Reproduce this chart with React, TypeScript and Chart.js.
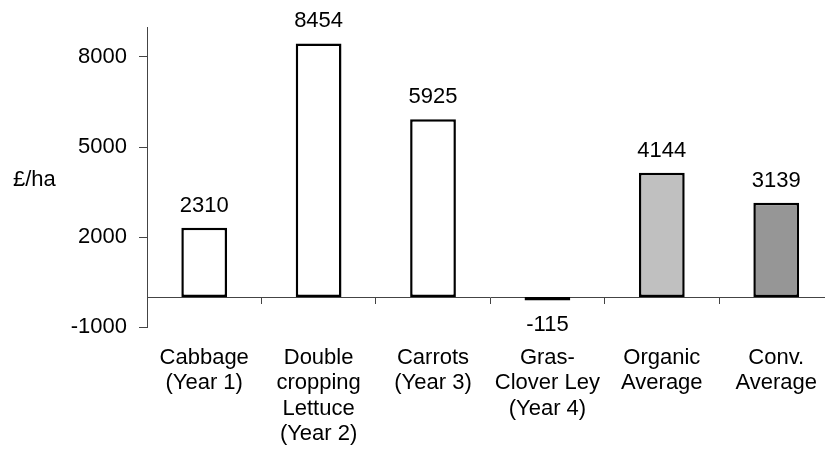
import { useEffect, useRef } from "react";
import { Chart, registerables } from "chart.js";

Chart.register(...registerables);

// Gross margin per crop in the rotation, plus organic and conventional averages
const categories: string[][] = [
  ["Cabbage", "(Year 1)"],
  ["Double", "cropping", "Lettuce", "(Year 2)"],
  ["Carrots", "(Year 3)"],
  ["Gras-", "Clover Ley", "(Year 4)"],
  ["Organic", "Average"],
  ["Conv.", "Average"],
];
const margins: number[] = [2310, 8454, 5925, -115, 4144, 3139];
const barColors: string[] = ["#ffffff", "#ffffff", "#ffffff", "#ffffff", "#c0c0c0", "#969696"];
const yTicks: number[] = [-1000, 2000, 5000, 8000];
const yMin = -1000;
const yMax = 9000;
const unitLabel = "£/ha";

const FONT_FAMILY = "'Liberation Sans', Arial, Helvetica, sans-serif";
const FONT_SIZE = 22;
const AXIS_COLOR = "#444444";

const W = 835;
const H = 454;
const PLOT_LEFT = 147;
const PLOT_TOP = 27;
const PLOT_BOTTOM = 327;

// Writes each bar's value above (or below, when negative) the bar, and the unit on the left
const valueLabels = {
  id: "valueLabels",
  afterDatasetsDraw(chart: any) {
    const ctx = chart.ctx as CanvasRenderingContext2D;
    const meta = chart.getDatasetMeta(0);
    ctx.save();
    ctx.font = `${FONT_SIZE}px ${FONT_FAMILY}`;
    ctx.fillStyle = "#000000";
    ctx.textAlign = "center";
    meta.data.forEach((bar: any, i: number) => {
      const v = margins[i];
      if (v >= 0) {
        ctx.textBaseline = "alphabetic";
        ctx.fillText(String(v), bar.x, bar.y - 16);
      } else {
        ctx.textBaseline = "top";
        ctx.fillText(String(v), bar.x, bar.y + 13);
      }
    });
    const area = chart.chartArea;
    ctx.textAlign = "left";
    ctx.textBaseline = "middle";
    ctx.fillText(unitLabel, 13, (area.top + area.bottom) / 2 + 3);
    ctx.restore();
  },
};

export default function App() {
  const canvasRef = useRef<HTMLCanvasElement | null>(null);

  useEffect(() => {
    if (!canvasRef.current) return;
    const font = { family: FONT_FAMILY, size: FONT_SIZE, lineHeight: 1.16 };
    const chart = new Chart(canvasRef.current, {
      type: "bar",
      data: {
        labels: categories,
        datasets: [
          {
            data: margins,
            backgroundColor: barColors,
            borderColor: "#000000",
            borderWidth: 2.5,
            borderSkipped: false,
            categoryPercentage: 1,
            barPercentage: 0.4,
          },
        ],
      },
      options: {
        animation: false,
        responsive: true,
        maintainAspectRatio: false,
        layout: { padding: { top: PLOT_TOP, left: 0, right: 0, bottom: 0 } },
        plugins: {
          legend: { display: false },
          tooltip: { enabled: false },
        },
        scales: {
          x: {
            type: "category",
            position: "bottom",
            grid: { display: false, drawTicks: false },
            border: { display: false },
            ticks: {
              font,
              color: "#000000",
              padding: 18,
              maxRotation: 0,
              autoSkip: false,
            },
            afterFit(scale: any) {
              scale.height = H - PLOT_BOTTOM;
            },
          },
          x2: {
            type: "category",
            position: { y: 0 },
            offset: true,
            grid: {
              offset: true,
              drawOnChartArea: false,
              drawTicks: true,
              tickLength: 6,
              color: AXIS_COLOR,
            },
            border: { display: true, color: AXIS_COLOR, width: 1 },
            ticks: { display: false },
          },
          y: {
            type: "linear",
            min: yMin,
            max: yMax,
            afterBuildTicks(scale: any) {
              scale.ticks = yTicks.map((value) => ({ value }));
            },
            grid: { drawOnChartArea: false, drawTicks: true, tickLength: 8, color: AXIS_COLOR },
            border: { display: true, color: AXIS_COLOR, width: 1 },
            ticks: {
              font,
              color: "#000000",
              padding: 12,
              callback: (value: any) => String(value),
            },
            afterFit(scale: any) {
              scale.width = PLOT_LEFT;
            },
          },
        },
      } as any,
      plugins: [valueLabels],
    });
    return () => chart.destroy();
  }, []);

  return (
    <div
      style={{
        position: "fixed",
        left: 0,
        top: 0,
        width: 825,
        height: H,
        overflow: "hidden",
        background: "#ffffff",
      }}
    >
      <div style={{ position: "relative", width: W, height: H }}>
        <canvas ref={canvasRef} />
      </div>
    </div>
  );
}
